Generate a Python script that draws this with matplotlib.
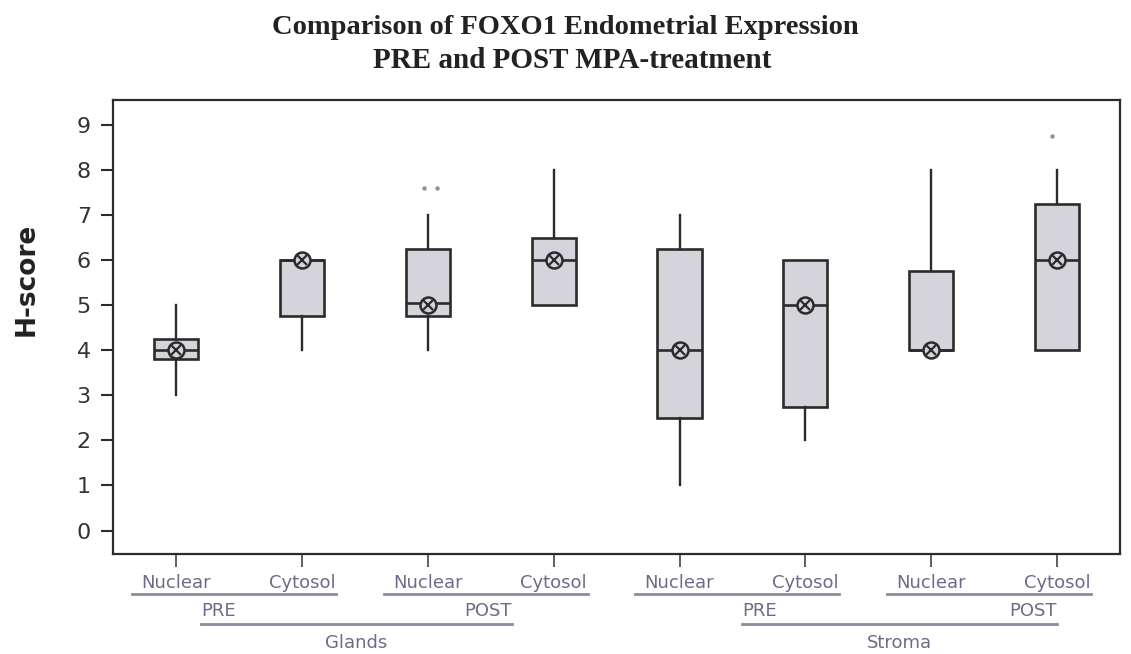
import numpy as np
import matplotlib
matplotlib.use("Agg")
import matplotlib.pyplot as plt
from matplotlib.transforms import blended_transform_factory

# data
cells = ["Nuclear", "Cytosol", "Nuclear", "Cytosol", "Nuclear", "Cytosol", "Nuclear", "Cytosol"]
phases = ["PRE", "POST", "PRE", "POST"]
tissues = ["Glands", "Stroma"]

q1 = [3.8, 4.75, 4.75, 5.0, 2.5, 2.75, 4.0, 4.0]
q3 = [4.25, 6.0, 6.25, 6.5, 6.25, 6.0, 5.75, 7.25]
medians = [4.0, 6.0, 5.05, 6.0, 4.0, 5.0, 4.0, 6.0]
means = [4.0, 6.0, 5.0, 6.0, 4.0, 5.0, 4.0, 6.0]
whislo = [3.0, 4.0, 4.0, 5.0, 1.0, 2.0, 4.0, 4.0]
whishi = [5.0, 6.0, 7.0, 8.0, 7.0, 6.0, 8.0, 8.0]
outliers = [[], [], [7.6, 7.6], [], [], [], [], [8.75]]

# layout
outlier_dx = [[], [], [-0.03, 0.07], [], [], [], [], [-0.04]]
group_spans = [(1.2, 3.67), (5.5, 8.0)]
label_col = "#6c6c8a"
line_col = "#8c8c9c"
dark = "#2b2b2b"

fig = plt.figure(figsize=(11.31, 6.54), dpi=100)
ax = fig.add_axes([0.0999, 0.153, 0.8905, 0.694])

pos = np.arange(1, len(cells) + 1)
stats = []
for i in range(len(cells)):
    stats.append({"q1": q1[i], "q3": q3[i], "med": medians[i], "mean": means[i],
                  "whislo": whislo[i], "whishi": whishi[i], "fliers": []})

ax.bxp(stats, positions=pos, widths=0.35, patch_artist=True, showcaps=False,
       showfliers=False, showmeans=False,
       boxprops=dict(facecolor="#d4d4da", edgecolor=dark, linewidth=1.9),
       medianprops=dict(color=dark, linewidth=1.9),
       whiskerprops=dict(color=dark, linewidth=1.7))

# mean symbol: circle with a cross
ax.plot(pos, means, linestyle="none", marker="o", markersize=11.5,
        markerfacecolor="#d4d4da", markeredgecolor=dark, markeredgewidth=1.8, zorder=5)
ax.plot(pos, means, linestyle="none", marker="x", markersize=6.5,
        markeredgecolor=dark, markeredgewidth=1.6, zorder=6)

for i, vals in enumerate(outliers):
    for v, dx in zip(vals, outlier_dx[i]):
        ax.plot(pos[i] + dx, v, linestyle="none", marker="o", markersize=3.2,
                color="#9090aa", markeredgewidth=0)

ax.set_xlim(0.5, 8.5)
ax.set_ylim(-0.52, 9.55)
ax.set_yticks(range(0, 10))
ax.set_xticks(pos)
ax.set_xticklabels([])
ax.tick_params(axis="y", length=9, width=1.5, color=dark, labelsize=16,
               labelcolor="#333333", pad=7)
ax.tick_params(axis="x", length=9, width=1.2, color="#444444")
for s in ax.spines.values():
    s.set_color(dark)
    s.set_linewidth(1.6)

ax.set_ylabel("H-score", fontsize=19, fontweight="bold", color="#222222")
ax.yaxis.set_label_coords(-0.073, 0.606)

# hierarchical x labels
tr = blended_transform_factory(ax.transData, fig.transFigure)
H = 654.0
for i, c in enumerate(cells):
    ax.text(pos[i], 1 - 583 / H, c, transform=tr, ha="center", va="center",
            fontsize=13, color=label_col, clip_on=False)
for k in range(len(phases)):
    x0 = pos[2 * k] - 0.35
    x1 = pos[2 * k + 1] + 0.27
    ax.plot([x0, x1], [1 - 594 / H] * 2, transform=tr, color=line_col,
            linewidth=2, clip_on=False)
for g, (x0, x1) in enumerate(group_spans):
    ax.text(x0, 1 - 611 / H, phases[2 * g], transform=tr, ha="left", va="center",
            fontsize=13, color=label_col, clip_on=False)
    ax.text(x1, 1 - 611 / H, phases[2 * g + 1], transform=tr, ha="right", va="center",
            fontsize=13, color=label_col, clip_on=False)
    ax.plot([x0, x1], [1 - 624 / H] * 2, transform=tr, color=line_col,
            linewidth=2, clip_on=False)
    ax.text((x0 + x1) / 2, 1 - 643 / H, tissues[g], transform=tr, ha="center",
            va="center", fontsize=13, color=label_col, clip_on=False)

fig.text(0.5, 1 - 28 / H, "Comparison of FOXO1 Endometrial Expression",
         ha="center", va="center", fontsize=20.5, fontweight="bold",
         family="Liberation Serif", color="#222222")
fig.text(0.506, 1 - 61 / H, "PRE and POST MPA-treatment",
         ha="center", va="center", fontsize=21, fontweight="bold",
         family="Liberation Serif", color="#222222")

fig.savefig("out.png", dpi=100, facecolor="white")
